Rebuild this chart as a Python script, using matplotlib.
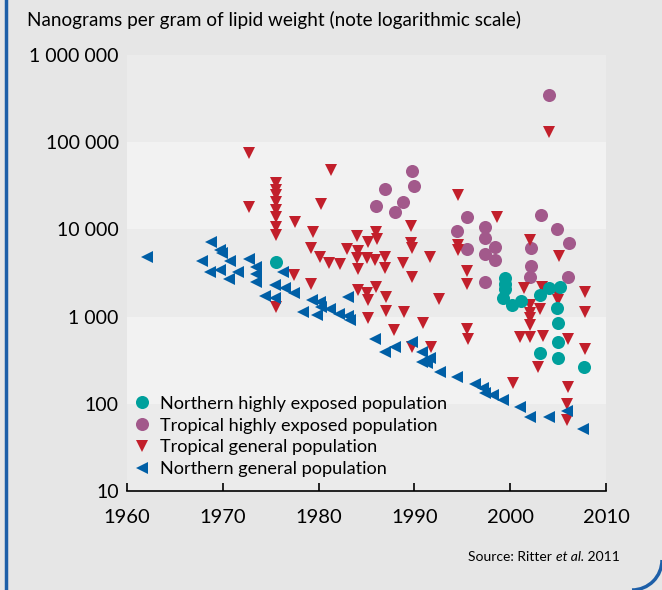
import numpy as np
import matplotlib.pyplot as plt
from matplotlib.patches import Arc
from matplotlib.lines import Line2D

plt.rcParams['font.family'] = ['Lato', 'DejaVu Sans']

# Northern highly exposed population (teal circles)
nhe_year = [1975.6, 1999.5, 1999.5, 1999.5, 1999.2, 2000.2, 2001.1, 2003.1,
            2004.1, 2005.2, 2004.9, 2005.0, 2005.0, 2005.0, 2003.1, 2007.7]
nhe_val = [4200, 2750, 2370, 2050, 1620, 1360, 1520, 1770,
           2110, 2170, 1240, 851, 515, 333, 380, 262]

# Tropical highly exposed population (purple circles)
the_year = [1989.8, 1990.0, 1986.9, 1988.8, 1986.0, 1988.0, 1994.4, 1995.5,
            1995.5, 1997.4, 1997.4, 1997.4, 1997.4, 1998.4, 1998.4, 2003.2,
            2004.9, 2006.1, 2002.2, 2002.2, 2002.1, 2006.0, 2004.1]
the_val = [47100, 31500, 29100, 20800, 18700, 16000, 9660, 13800,
           5910, 10600, 7910, 5220, 2510, 6340, 4460, 14600,
           10000, 7030, 6070, 3800, 2870, 2820, 348000]

# Tropical general population (red triangles)
tg_year = [1972.7, 1972.7, 1975.6, 1975.6, 1975.6, 1975.6, 1975.6, 1975.6,
           1975.6, 1975.6, 1975.6, 1977.5, 1977.4, 1981.3, 1980.3, 1979.4,
           1979.2, 1980.1, 1981.1, 1982.2, 1983.0, 1984.0, 1984.1, 1984.0,
           1984.1, 1985.2, 1985.1, 1986.0, 1986.1, 1985.9, 1986.9, 1986.9,
           1979.2, 1984.1, 1985.1, 1985.2, 1986.0, 1987.0, 1987.0, 1985.2,
           1988.9, 1987.9, 1990.9, 1989.7, 1991.7, 1988.8, 1989.6, 1989.6,
           1989.7, 1989.8, 1991.6, 1992.6, 1994.6, 1994.6, 1994.6, 1995.5,
           1995.5, 1995.5, 1995.6, 1998.6, 2002.1, 2005.1, 2001.4, 2003.3,
           2005.0, 2005.0, 2003.1, 2002.1, 2002.1, 2002.1, 2002.1, 2001.0,
           2002.1, 2003.4, 2006.0, 2007.8, 2007.8, 2007.8, 2002.9, 2000.3,
           2006.0, 2005.9, 2005.9, 2004.0]
tg_val = [75900, 18200, 34000, 28300, 24800, 20600, 16700, 13900,
          10700, 8630, 1300, 12200, 3000, 48000, 19500, 9420,
          6170, 4870, 4150, 4010, 5960, 8400, 5650, 4660,
          3490, 7230, 4660, 9420, 7690, 4460, 4790, 3580,
          2370, 2020, 1850, 1550, 2200, 1690, 1170, 957,
          1140, 702, 851, 452, 452, 4150, 10900, 6930,
          6170, 2870, 4790, 1580, 24800, 6620, 5810, 3360,
          2370, 715, 550, 14000, 7550, 4960, 2110, 2200,
          1770, 1550, 1210, 1360, 1090, 957, 802, 589,
          589, 600, 550, 1930, 1140, 422, 262, 172,
          155, 100, 66, 132000]

# Northern general population (blue triangles)
ng_year = [1962.1, 1968.8, 1969.7, 1969.9, 1967.8, 1970.8, 1972.7, 1968.7,
           1969.7, 1971.6, 1973.5, 1973.5, 1973.5, 1970.6, 1976.3, 1975.4,
           1976.5, 1977.4, 1974.4, 1975.4, 1979.3, 1980.1, 1980.3, 1981.2,
           1978.4, 1979.8, 1982.1, 1983.1, 1983.3, 1983.1, 1985.9, 1986.9,
           1988.0, 1989.7, 1990.8, 1991.6, 1990.8, 1991.3, 1992.7, 1994.4,
           1996.3, 1997.2, 1997.4, 1998.2, 1999.3, 2001.0, 2002.1, 2004.0,
           2005.9, 2007.6]
ng_val = [4860, 7230, 5800, 5320, 4380, 4380, 4540, 3240,
          3420, 3240, 3710, 3080, 2500, 2680, 3240, 2300,
          2110, 1850, 1720, 1620, 1550, 1480, 1300, 1210,
          1120, 1040, 1070, 1020, 914, 1690, 553, 390,
          452, 515, 396, 332, 304, 291, 233, 205,
          169, 151, 132, 126, 111, 93, 70, 71,
          83, 51]

y_ticks = [10, 100, 1000, 10000, 100000, 1000000]
y_labels = ['10', '100', '1 000', '10 000', '100 000', '1 000 000']
x_ticks = [1960, 1970, 1980, 1990, 2000, 2010]

c_teal = '#00a09c'
c_purple = '#a2598b'
c_red = '#c21f2b'
c_blue = '#005fa6'

fig = plt.figure(figsize=(6.62, 5.9), dpi=100, facecolor='#e6e6e6')
ax = fig.add_axes([127/662, 1 - 491/590, 479/662, 436/590])
ax.set_facecolor('#f2f2f2')
ax.set_yscale('log')
ax.set_xlim(1960, 2010)
ax.set_ylim(10, 1000000)

# alternating decade bands
for i, lo in enumerate(y_ticks[:-1]):
    if i % 2 == 0:
        ax.axhspan(lo, lo * 10, color='#ebebeb', lw=0, zorder=0)

ms = 8.8
ax.plot(the_year, the_val, 'o', color=c_purple, ms=9.4, mew=0, zorder=3)
ax.plot(tg_year, tg_val, 'v', color=c_red, ms=ms, mew=0, zorder=3)
ax.plot(nhe_year, nhe_val, 'o', color=c_teal, ms=9.4, mew=0, zorder=3)
ax.plot(ng_year, ng_val, '<', color=c_blue, ms=ms, mew=0, zorder=4)

for s in ['left', 'right', 'top']:
    ax.spines[s].set_visible(False)
ax.spines['bottom'].set_color('black')
ax.spines['bottom'].set_linewidth(1.2)

ax.set_xticks(x_ticks)
ax.set_xticklabels([str(x) for x in x_ticks])
ax.set_yticks(y_ticks)
ax.set_yticklabels(y_labels)
ax.minorticks_off()
ax.tick_params(axis='x', direction='in', length=6, width=1.2, labelsize=14.5, pad=13)
ax.tick_params(axis='y', length=0, labelsize=14, pad=6)

handles = [
    Line2D([], [], ls='', marker='o', color=c_teal, ms=9.4, mew=0),
    Line2D([], [], ls='', marker='o', color=c_purple, ms=9.4, mew=0),
    Line2D([], [], ls='', marker='v', color=c_red, ms=ms, mew=0),
    Line2D([], [], ls='', marker='<', color=c_blue, ms=ms, mew=0),
]
labels = ['Northern highly exposed population', 'Tropical highly exposed population',
          'Tropical general population', 'Northern general population']
ax.legend(handles, labels, loc='lower left', bbox_to_anchor=(-0.018, -0.002),
          frameon=False, fontsize=13.1, handlelength=1.0, handletextpad=0.5,
          labelspacing=0.32, borderpad=0.3)

fig.text(27/662, 1 - 20/590, 'Nanograms per gram of lipid weight (note logarithmic scale)',
         fontsize=13.6, ha='left', va='center')
src = fig.text(620/662, 1 - 557/590, ' 2011', fontsize=10, ha='right', va='center')
fig.canvas.draw()
r = fig.canvas.get_renderer()
x_end = src.get_window_extent(r).x0 / fig.bbox.width
src2 = fig.text(x_end, 1 - 557/590, 'et al.', fontsize=10, style='italic',
                ha='right', va='center')
x_end = src2.get_window_extent(r).x0 / fig.bbox.width
fig.text(x_end, 1 - 557/590, 'Source: Ritter ', fontsize=10, ha='right', va='center')

# blue frame: left edge and rounded bottom-right corner
fig.add_artist(Line2D([5.5/662, 5.5/662], [0, 1], color='#1d5fa8', lw=2.5))
fig.add_artist(Arc((632/662, 30/590), 60/662, 60/590, theta1=-90, theta2=0,
                   color='#1d5fa8', lw=2.5, transform=fig.transFigure))

fig.savefig('out.png', dpi=100, facecolor=fig.get_facecolor())
